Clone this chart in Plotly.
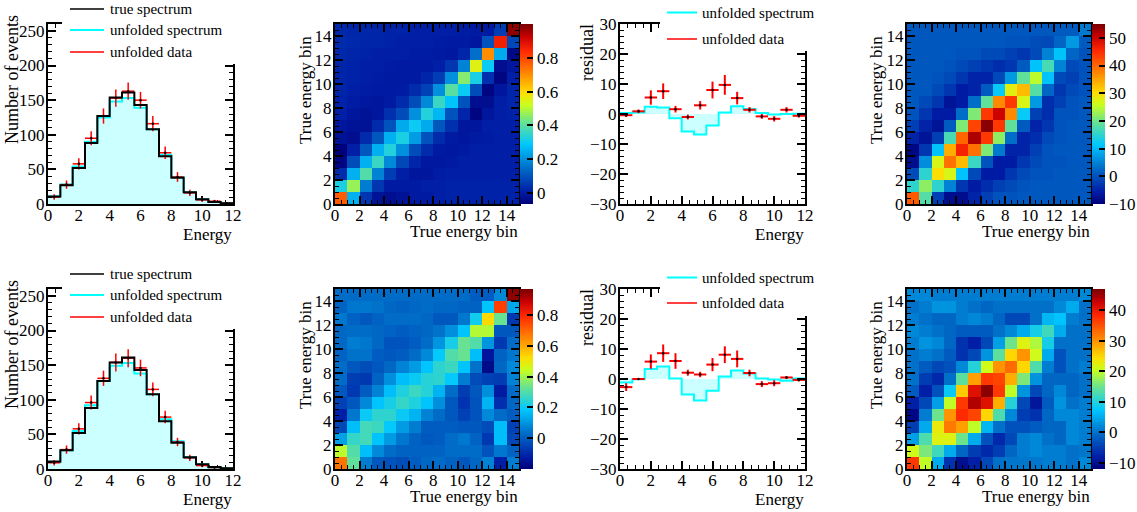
import plotly.graph_objects as go

W, H = 1137, 512
FONT = "Liberation Serif"

# ---------- data ----------
energy_bins = [0.4, 1.2, 2.0, 2.8, 3.6, 4.4, 5.2, 6.0, 6.8, 7.6, 8.4, 9.2, 10.0, 10.8, 11.6]
energy_edges = [0, 12]
matrix_bins = [0.5, 1.5, 2.5, 3.5, 4.5, 5.5, 6.5, 7.5, 8.5, 9.5, 10.5, 11.5, 12.5, 13.5, 14.5]

true_spectrum = [11, 27, 52, 88, 127, 154, 161, 143, 108, 69, 38, 17, 7, 3, 1]

unfolded_top = [11, 28, 54, 90, 125, 148, 153, 139, 108, 71, 39, 17, 7, 3, 1]
data_top = [10, 28, 58, 95, 127, 153, 163, 150, 116, 74, 39, 16, 6, 4, 1]
data_top_err = [4, 6, 8, 10, 11, 12.5, 12.5, 12, 11, 9, 7, 4.5, 3, 2, 1]

unfolded_bot = [10, 27, 55, 92, 127, 149, 153, 138, 108, 72, 40, 17, 7, 2, 1]
data_bot = [9, 28, 58, 96, 131, 154, 160, 146, 115, 75, 39, 16, 5, 2, 0.5]
data_bot_err = [4, 6, 8, 10, 11, 13, 13, 12, 10, 9, 6, 4.5, 2.5, 1, 1]

res_unf_top = [0.3, 0.5, 2.4, 2.2, -1.4, -5.8, -6.8, -3.8, 0.5, 2.6, 1.7, 0.3, -0.2, 0.0, 0.1]
res_data_top = [-0.4, 0.9, 5.5, 7.6, 1.6, -1.0, 2.9, 8.0, 9.7, 5.3, 1.4, -0.8, -1.6, 1.4, -0.6]
res_err_top = [0.6, 0.6, 2.4, 2.6, 1.1, 0.8, 1.4, 2.8, 3.3, 2.1, 0.9, 0.8, 0.9, 0.9, 0.6]

res_unf_bot = [-1.2, -0.1, 3.3, 4.2, 0.2, -5.2, -7.2, -3.9, 0.8, 2.8, 1.8, 0.2, -0.2, -0.6, 0.2]
res_data_bot = [-2.7, 0.0, 5.8, 8.6, 6.0, 2.1, 1.5, 4.8, 8.1, 6.7, 2.0, -1.7, -1.4, 0.5, -0.3]
res_err_bot = [1.3, 0.3, 2.4, 2.9, 2.6, 1.0, 0.9, 2.2, 2.8, 2.8, 1.1, 1.0, 1.0, 0.5, 0.5]

corr_top = [
 [.77,.25,.05,-.02,-.03,-.02,0,0,.01,.015,.015,.015,.015,.015,.015],
 [.32,.47,.17,.05,0,0,0,.01,.01,.015,.015,.015,.015,.015,.015],
 [.03,.25,.39,.18,.06,.01,-.01,-.01,.005,.01,.01,.01,.01,.01,.01],
 [-.05,.09,.25,.36,.19,.08,.02,-.005,-.005,0,.01,.01,.01,.01,.01],
 [-.06,.01,.11,.25,.33,.2,.09,.03,0,-.005,0,.01,.01,.01,.01],
 [-.02,-.03,.03,.11,.25,.32,.22,.1,.03,0,-.01,0,.005,.01,.01],
 [-.01,-.02,-.02,.03,.1,.24,.3,.24,.11,.04,-.01,-.01,.01,.01,.01],
 [.01,-.01,-.02,-.01,.04,.09,.2,.33,.26,.1,.02,-.05,-.01,.01,.015],
 [.015,.005,-.005,-.01,0,.03,.09,.19,.36,.28,.1,-.03,-.03,.01,.02],
 [.02,.01,.005,0,0,.005,.03,.07,.2,.4,.3,.09,-.05,-.01,.02],
 [.02,.015,.01,.005,0,0,0,.02,.06,.2,.45,.32,.04,-.05,.01],
 [.02,.015,.01,.01,.005,0,0,0,.01,.05,.18,.55,.3,-.03,-.01],
 [.025,.02,.015,.01,.01,.01,.005,.005,0,-.005,.02,.15,.7,.24,-.04],
 [.03,.025,.02,.02,.015,.01,.01,.01,.005,0,0,-.01,.1,.86,.08],
 [.025,.02,.02,.02,.015,.015,.01,.01,.01,.01,.005,0,0,.06,.98],
]
cov_top = [
 [41,18,-2,-8,-8,-5,-2,0,0,.5,.5,.5,.5,.5,.5],
 [15,22,15,5,-3,-6,-4,-2,-1,0,.5,.5,.5,.5,.5],
 [-1,15,30,27,11,-1,-6,-6,-3,-1,0,0,.5,.5,.5],
 [-8,6,27,39,33,16,0,-6,-6,-3,-1,0,0,.5,.5],
 [-9,-3,11,34,46,39,21,4,-5,-5,-2,0,.5,.5,.5],
 [-5,-7,-2,17,40,52,44,22,3,-5,-4,-1,0,.5,.5],
 [-2,-5,-7,1,21,43,54,44,19,1,-5,-3,0,.5,.5],
 [0,-3,-6,-6,3,21,44,50,37,12,-2,-4,0,0,.5],
 [.5,-1,-3,-7,-6,3,19,37,44,27,7,-4,-2,0,.5],
 [.5,.5,-1,-3,-6,-5,1,12,28,33,18,2,-3,-1,0],
 [.5,.5,0,-1,-3,-5,-5,-1,7,19,25,11,-1,-2,0],
 [.5,.5,.5,0,-1,-2,-3,-4,-3,1,11,17,5,-1,0],
 [.5,.5,.5,.5,0,0,-1,-1,-2,-3,-1,5,11,2,0],
 [.5,.5,.5,.5,.5,.5,.5,.5,0,0,-.5,-1,2,7,1],
 [.5,.5,.5,.5,.5,.5,.5,.5,.5,.5,.5,.5,1,1,4],
]
corr_bot = [
 [.68,.32,.06,-.01,-.02,-.03,0,.02,.03,.01,-.01,.02,.07,-.12,.06],
 [.43,.3,.17,.08,.03,.01,.01,.01,.01,.03,.03,.03,-.02,.05,.01],
 [.12,.26,.28,.18,.11,.05,.01,-.01,0,.03,.05,.01,-.07,.17,-.04],
 [-.04,.17,.28,.27,.19,.11,.06,0,0,0,-.01,-.01,-.03,.17,-.05],
 [-.12,.05,.2,.25,.25,.2,.15,.07,.03,-.01,-.05,-.02,.08,.03,0],
 [-.05,-.01,.08,.18,.22,.26,.23,.18,.09,-.01,-.08,-.02,.15,-.09,.02],
 [-.01,-.07,0,.07,.17,.23,.27,.24,.15,.03,-.06,-.01,.09,-.13,.03],
 [.03,-.06,-.07,.01,.09,.17,.2,.24,.25,.19,.06,-.03,-.05,-.06,.07],
 [.03,-.01,-.03,-.01,.02,.07,.11,.18,.25,.27,.18,.04,-.17,.02,.08],
 [.01,.04,.04,0,-.01,0,.03,.08,.19,.3,.33,.17,-.14,.01,.05],
 [.02,.06,.05,.02,-.02,-.02,0,.03,.1,.22,.33,.3,.1,-.07,.03],
 [.02,.03,.03,.02,.01,0,.01,.02,.04,.09,.18,.42,.42,-.01,-.01],
 [.05,.01,-.01,.01,.03,.03,.03,.02,-.01,-.01,.05,.21,.53,.33,-.07],
 [.01,.05,.05,.04,.02,.01,.02,.03,.02,.02,.01,.01,.18,.76,.13],
 [.03,.03,.03,.03,.03,.03,.03,.03,.03,.03,.03,0,0,.08,.95],
]
cov_bot = [
 [37,20,5,-6,-10,-8,-4,0,.5,.5,.5,1,1,0,2],
 [21,16,12,5,-1,-5,-7,-5,-1,1,2,1,1,0,.5],
 [4,13,22,22,15,5,-3,-7,-4,1,2,0,-1,2,1],
 [-5,5,23,32,29,20,6,0,-3,-3,-2,-1,-1,2,1],
 [-11,1,15,30,38,36,25,13,2,-5,-6,-1,2,2,1],
 [-8,-4,4,20,37,44,41,28,10,-4,-9,-2,3,0,1],
 [-2,-8,-3,8,26,41,46,37,20,3,-4,-1,2,-1,0],
 [0,-5,-7,0,14,29,37,36,28,16,3,-1,-1,-1,0],
 [0,-2,-4,-3,2,10,21,30,33,25,13,1,-3,0,1],
 [0,1,0,-2,-6,-4,3,14,25,30,21,5,-3,0,0],
 [1,3,2,-1,-6,-8,-4,4,15,22,19,9,0,0,0],
 [2,1,0,-1,-2,-2,-2,0,2,5,9,12,5,0,0],
 [1,0,-1,-1,1,2,1,-1,-4,-4,0,6,7,1,0],
 [0,1,3,3,1,0,-1,0,0,0,0,0,2,5,0],
 [2,2,1,1,1,1,1,1,1,1,1,1,1,1,2],
]

spectrum_ticks = [0, 50, 100, 150, 200, 250]
residual_ticks = [-30, -20, -10, 0, 10, 20, 30]
energy_ticks = [0, 2, 4, 6, 8, 10, 12]
bin_ticks = [0, 2, 4, 6, 8, 10, 12, 14]
cbar_ticks_corr = [0, 0.2, 0.4, 0.6, 0.8]
cbar_ticks_cov_top = [-10, 0, 10, 20, 30, 40, 50]
cbar_ticks_cov_bot = [-10, 0, 10, 20, 30, 40]

# ---------- styling ----------
JET = [[0, "rgb(0,0,120)"], [.065, "rgb(0,28,165)"], [.2, "rgb(0,110,200)"], [.33, "rgb(0,200,255)"],
       [.45, "rgb(100,225,150)"], [.55, "rgb(200,255,30)"], [.62, "rgb(255,220,0)"], [.72, "rgb(255,140,0)"],
       [.85, "rgb(255,40,0)"], [.93, "rgb(200,0,0)"], [1, "rgb(120,0,0)"]]
CYAN, FILL, RED = "#00ffff", "#ccffff", "#ff0000"
TICK_SIZE = 17

fig = go.Figure()
shapes, notes = [], []
layout = {}
axis_n = [0]


def px(x): return x / W
def py(y): return 1 - y / H


def text(x, y, s, size, anchor="left", angle=0):
    notes.append(dict(x=px(x), y=py(y), xref="paper", yref="paper", text=s, showarrow=False,
                      xanchor=anchor, yanchor="middle", textangle=angle,
                      font=dict(family=FONT, size=size, color="black")))


def axis(domain, rng, ticks, minor, anchor, standoff):
    return dict(domain=domain, range=rng, tickmode="array", tickvals=ticks, ticks="inside", ticklen=8,
                tickwidth=1.5, tickcolor="black", showline=True, linecolor="black", linewidth=2, mirror="ticks",
                showgrid=False, zeroline=False, anchor=anchor, tickangle=0, ticklabelstandoff=standoff,
                tickfont=dict(family=FONT, size=TICK_SIZE, color="black"),
                minor=dict(dtick=minor, ticks="inside", ticklen=4, tickwidth=1, tickcolor="black", showgrid=False))


def axes(x0, x1, y0, y1, xr, xt, xm, yr, yt, ym, xlayer="above traces"):
    axis_n[0] += 1
    n = axis_n[0]
    xa, ya = ("x%d" % n, "y%d" % n)
    layout["xaxis%d" % n] = axis([px(x0), px(x1)], xr, xt, xm, ya, -5) | dict(layer=xlayer)
    layout["yaxis%d" % n] = axis([py(y1), py(y0)], yr, yt, ym, xa, -2)
    return xa, ya


def step(xa, ya, values, color, width, fill=None, name=""):
    fig.add_trace(go.Scatter(x=energy_edges[:1] + energy_bins + energy_edges[1:],
                             y=values[:1] + values + values[-1:], mode="lines", xaxis=xa, yaxis=ya, name=name,
                             line=dict(color=color, width=width, shape="hvh"),
                             fill="tozeroy" if fill else None, fillcolor=fill, showlegend=False))


def crosses(xa, ya, values, errs, width, name=""):
    fig.add_trace(go.Scatter(x=energy_bins, y=values, mode="markers", xaxis=xa, yaxis=ya, name=name, showlegend=False,
                             marker=dict(color="black", size=2.5),
                             error_x=dict(type="constant", value=0.4, color=RED, thickness=width, width=0),
                             error_y=dict(type="data", array=errs, color=RED, thickness=width, width=0)))


def legend_entry(x0, x1, y, s, color, width, tx):
    shapes.append(dict(type="line", xref="paper", yref="paper", x0=px(x0), x1=px(x1), y0=py(y), y1=py(y),
                       line=dict(color=color, width=width), layer="above"))
    text(tx - 2, y, s, 15)


def white(x0, y0, x1, y1):
    shapes.append(dict(type="rect", xref="paper", yref="paper", x0=px(x0), x1=px(x1), y0=py(y0), y1=py(y1),
                       line=dict(width=0), fillcolor="white", layer="above"))


def spectrum(dy, unf, dat, err):
    xa, ya = axes(48, 233, 24 + dy, 204 + dy, [0, 12], energy_ticks, 0.5, [0, 260], spectrum_ticks, 10, "below traces")
    step(xa, ya, unf, CYAN, 2, FILL, "unfolded spectrum")
    crosses(xa, ya, dat, err, 1.5, "unfolded data")
    step(xa, ya, true_spectrum, "black", 2, None, "true spectrum")
    white(62, dy, 236, 64 + dy)
    legend_entry(70, 104, 9 + dy, "true spectrum", "black", 1.5, 110)
    legend_entry(70, 104, 30 + dy, "unfolded spectrum", CYAN, 2, 110)
    legend_entry(70, 104, 52 + dy, "unfolded data", RED, 1.5, 110)
    text(12, 80 + dy, "Number of events", 18, "center", -90)
    text(234, 234 + dy, "Energy", 17, "right")


def residual(dy, unf, dat, err, leg2):
    xa, ya = axes(620, 805, 24 + dy, 204 + dy, [0, 12], energy_ticks, 0.5, [-30, 30], residual_ticks, 2)
    step(xa, ya, unf, CYAN, 2, FILL, "unfolded spectrum")
    crosses(xa, ya, dat, err, 2, "unfolded data")
    white(660, dy, 808, 51 + dy)
    legend_entry(667, 697, 12.5 + dy, "unfolded spectrum", CYAN, 2, 702)
    legend_entry(667, 697, leg2 + dy, "unfolded data", RED, 1.5, 702)
    text(587, 53 + dy, "residual", 18, "center", -90)
    text(806, 234 + dy, "Energy", 17, "right")


def matrix(x0, dy, z, zmin, zmax, cticks, title_x):
    x1 = x0 + 184
    xa, ya = axes(x0, x1, 24 + dy, 204 + dy, [0, 15], bin_ticks, 0.5, [0, 15], bin_ticks, 0.5)
    fig.add_trace(go.Heatmap(x=matrix_bins, y=matrix_bins, z=z, zmin=zmin, zmax=zmax, colorscale=JET, xaxis=xa, yaxis=ya,
                             colorbar=dict(x=px(x1 + 1), xanchor="left", y=py(24 + dy), yanchor="top",
                                           len=180, lenmode="pixels", thickness=13, thicknessmode="pixels",
                                           xpad=0, ypad=0, outlinewidth=0, ticks="inside", ticklen=6, tickwidth=1.5,
                                           tickcolor="black", tickmode="array", tickvals=cticks,
                                           tickfont=dict(family=FONT, size=TICK_SIZE, color="black"))))
    text(title_x, 90 + dy, "True energy bin", 17, "center", -90)
    text(x1 + 1, 231 + dy, "True energy bin", 17, "right")


spectrum(0, unfolded_top, data_top, data_top_err)
matrix(335, 0, corr_top, -0.065, 1.0, cbar_ticks_corr, 305)
residual(0, res_unf_top, res_data_top, res_err_top, 39)
matrix(907, 0, cov_top, -10, 55, cbar_ticks_cov_top, 876)

spectrum(265, unfolded_bot, data_bot, data_bot_err)
matrix(335, 265, corr_bot, -0.2, 0.97, cbar_ticks_corr, 305)
residual(265, res_unf_bot, res_data_bot, res_err_bot, 38)
matrix(907, 265, cov_bot, -12, 47, cbar_ticks_cov_bot, 876)

fig.update_layout(width=W, height=H, margin=dict(l=0, r=0, t=0, b=0, autoexpand=False), paper_bgcolor="white",
                  plot_bgcolor="white", showlegend=False, shapes=shapes, annotations=notes,
                  font=dict(family=FONT), **layout)
fig.write_html("out.html", post_script="document.body.style.margin='0';", config=dict(displayModeBar=False))
